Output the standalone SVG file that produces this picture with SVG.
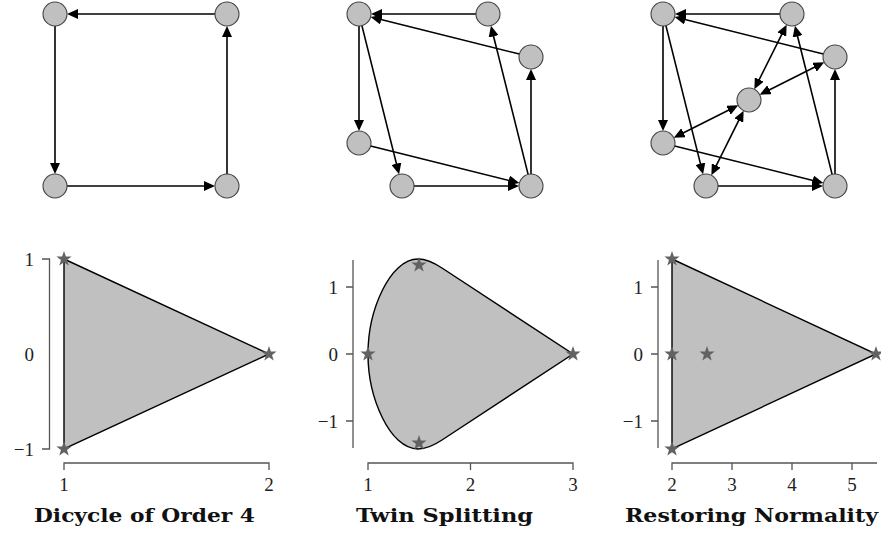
<svg xmlns="http://www.w3.org/2000/svg" width="881" height="537" viewBox="0 0 881 537">
<style>
.node circle{fill:#c0c0c0;stroke:#444;stroke-width:1.1}
.edge{stroke:#000;stroke-width:1.6;fill:none}
.one{marker-end:url(#arr)}
.two{marker-end:url(#arr);marker-start:url(#arr)}
.axis{stroke:#555;stroke-width:1.3;fill:none}
.region{fill:#c0c0c0;stroke:#000;stroke-width:1.4}
.tick{font-family:"Liberation Serif","DejaVu Serif",serif;font-size:19px;fill:#222}
.yl{text-anchor:end}
.xl{text-anchor:middle}
.title{font-family:"DejaVu Serif","Liberation Serif",serif;font-weight:bold;font-size:19px;fill:#111}
.star{fill:#626262}
</style>
<defs>
<marker id="arr" markerUnits="userSpaceOnUse" markerWidth="11" markerHeight="10" refX="5.5" refY="5" orient="auto-start-reverse">
<path d="M0,0 L11,5 L0,10 Z" fill="#000"/>
</marker>
<path id="st" d="M0,-8 L1.88,-2.59 L7.61,-2.47 L3.04,0.99 L4.70,6.47 L0,3.2 L-4.70,6.47 L-3.04,0.99 L-7.61,-2.47 L-1.88,-2.59 Z"/>
</defs>

<!-- Graph 1 connectors -->
<g id="connectors1">
<line class="edge one" x1="215" y1="14" x2="72.5" y2="14"/>
<line class="edge one" x1="55" y1="26" x2="55" y2="168.5"/>
<line class="edge one" x1="67" y1="186" x2="209.5" y2="186"/>
<line class="edge one" x1="227" y1="174" x2="227" y2="31.5"/>
</g>
<g id="g1a" class="node"><circle cx="55" cy="14" r="12"/></g>
<g id="g1b" class="node"><circle cx="227" cy="14" r="12"/></g>
<g id="g1c" class="node"><circle cx="55" cy="186" r="12"/></g>
<g id="g1d" class="node"><circle cx="227" cy="186" r="12"/></g>

<!-- Graph 2 connectors -->
<g id="connectors2">
<line class="edge one" x1="476" y1="14" x2="376.5" y2="14"/>
<line class="edge one" x1="519.36" y1="54.09" x2="375.97" y2="18.24"/>
<line class="edge one" x1="359" y1="26" x2="359" y2="125.5"/>
<line class="edge one" x1="361.91" y1="25.64" x2="397.76" y2="169.02"/>
<line class="edge one" x1="370.64" y1="145.91" x2="514.02" y2="181.76"/>
<line class="edge one" x1="414" y1="186" x2="513.5" y2="186"/>
<line class="edge one" x1="531" y1="174" x2="531" y2="74.5"/>
<line class="edge one" x1="528.09" y1="174.36" x2="492.24" y2="30.98"/>
</g>
<g id="g2a" class="node"><circle cx="359" cy="14" r="12"/></g>
<g id="g2b" class="node"><circle cx="488" cy="14" r="12"/></g>
<g id="g2c" class="node"><circle cx="531" cy="57" r="12"/></g>
<g id="g2d" class="node"><circle cx="359" cy="143" r="12"/></g>
<g id="g2e" class="node"><circle cx="402" cy="186" r="12"/></g>
<g id="g2f" class="node"><circle cx="531" cy="186" r="12"/></g>

<!-- Graph 3 connectors -->
<g id="connectors3">
<line class="edge one" x1="780" y1="14" x2="680.5" y2="14"/>
<line class="edge one" x1="823.36" y1="54.09" x2="679.97" y2="18.24"/>
<line class="edge one" x1="663" y1="26" x2="663" y2="125.5"/>
<line class="edge one" x1="665.91" y1="25.64" x2="701.76" y2="169.02"/>
<line class="edge one" x1="674.64" y1="145.91" x2="818.02" y2="181.76"/>
<line class="edge one" x1="718" y1="186" x2="817.5" y2="186"/>
<line class="edge one" x1="835" y1="174" x2="835" y2="74.5"/>
<line class="edge one" x1="832.09" y1="174.36" x2="796.24" y2="30.98"/>
<line class="edge two" x1="756.83" y1="84.35" x2="784.17" y2="29.65"/>
<line class="edge two" x1="764.65" y1="92.17" x2="819.35" y2="64.83"/>
<line class="edge two" x1="733.35" y1="107.83" x2="678.65" y2="135.17"/>
<line class="edge two" x1="741.17" y1="115.65" x2="713.83" y2="170.35"/>
</g>
<g id="g3a" class="node"><circle cx="663" cy="14" r="12"/></g>
<g id="g3b" class="node"><circle cx="792" cy="14" r="12"/></g>
<g id="g3c" class="node"><circle cx="835" cy="57" r="12"/></g>
<g id="g3d" class="node"><circle cx="663" cy="143" r="12"/></g>
<g id="g3e" class="node"><circle cx="706" cy="186" r="12"/></g>
<g id="g3f" class="node"><circle cx="835" cy="186" r="12"/></g>
<g id="g3g" class="node"><circle cx="749" cy="100" r="12"/></g>

<!-- Plot 1 -->
<g id="plot1">
<path class="axis" d="M42,259 H49.5 V449 H42"/>
<path class="axis" d="M64,470 V463 H269 V470"/>
<polygon class="region" points="64,259 269,354 64,449"/>
<use href="#st" class="star" x="64" y="259"/>
<use href="#st" class="star" x="269" y="354"/>
<use href="#st" class="star" x="64" y="449"/>
<text class="tick yl" x="34" y="265.5">1</text>
<text class="tick yl" x="34" y="360.5">0</text>
<text class="tick yl" x="34" y="455.5">−1</text>
<text class="tick xl" x="64" y="491">1</text>
<text class="tick xl" x="269" y="491">2</text>
<text class="title" x="34" y="522" textLength="221" lengthAdjust="spacingAndGlyphs">Dicycle of Order 4</text>
</g>

<!-- Plot 2 -->
<g id="plot2">
<path class="axis" d="M353,260 V448 M346,287 H353 M346,354 H353 M346,421 H353"/>
<path class="axis" d="M368,470 V463 H573 V470 M470.5,463 V470"/>
<path class="region" d="M368,354 C368,310 390,259 418,259 C428,259 436,264 442,268 L573,354 L442,440 C436,444 428,449 418,449 C390,449 368,398 368,354 Z"/>
<use href="#st" class="star" x="368" y="354"/>
<use href="#st" class="star" x="419" y="265"/>
<use href="#st" class="star" x="419" y="443"/>
<use href="#st" class="star" x="573" y="354"/>
<text class="tick yl" x="338" y="293.5">1</text>
<text class="tick yl" x="338" y="360.5">0</text>
<text class="tick yl" x="338" y="427.5">−1</text>
<text class="tick xl" x="368" y="491">1</text>
<text class="tick xl" x="470.5" y="491">2</text>
<text class="tick xl" x="573" y="491">3</text>
<text class="title" x="356" y="522" textLength="177" lengthAdjust="spacingAndGlyphs">Twin Splitting</text>
</g>

<!-- Plot 3 -->
<g id="plot3">
<path class="axis" d="M658,260 V448 M651,287 H658 M651,354 H658 M651,421 H658"/>
<path class="axis" d="M672,470 V463 H877 M732,463 V470 M792,463 V470 M852,463 V470"/>
<polygon class="region" points="672,259 876,354 672,449"/>
<use href="#st" class="star" x="672" y="259"/>
<use href="#st" class="star" x="672" y="354"/>
<use href="#st" class="star" x="707" y="354"/>
<use href="#st" class="star" x="876" y="354"/>
<use href="#st" class="star" x="672" y="449"/>
<text class="tick yl" x="643" y="293.5">1</text>
<text class="tick yl" x="643" y="360.5">0</text>
<text class="tick yl" x="643" y="427.5">−1</text>
<text class="tick xl" x="672" y="491">2</text>
<text class="tick xl" x="732" y="491">3</text>
<text class="tick xl" x="792" y="491">4</text>
<text class="tick xl" x="852" y="491">5</text>
<text class="title" x="625" y="522" textLength="253" lengthAdjust="spacingAndGlyphs">Restoring Normality</text>
</g>
</svg>
